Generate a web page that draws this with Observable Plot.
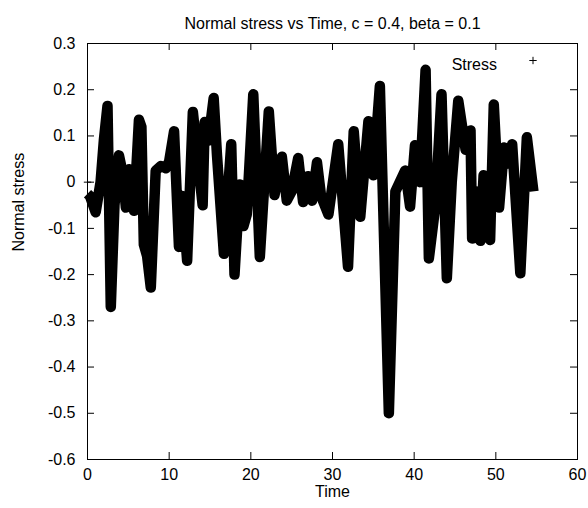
<!DOCTYPE html>
<html>
<head>
<meta charset="utf-8">
<script src="https://cdn.jsdelivr.net/npm/d3@7"></script>
<script src="https://cdn.jsdelivr.net/npm/@observablehq/plot@0.6"></script>
<style>
  html, body { margin: 0; padding: 0; background: white; }
</style>
</head>
<body>
<div id="chart"></div>
<script>
const chartTitle = "Normal stress vs Time, c = 0.4, beta = 0.1";
const xLabel = "Time";
const yLabel = "Normal stress";
const seriesName = "Stress";

const xTicks = [0, 10, 20, 30, 40, 50, 60];
const yTicks = [-0.6, -0.5, -0.4, -0.3, -0.2, -0.1, 0, 0.1, 0.2, 0.3];
const xDomain = [0, 60];
const yDomain = [-0.6, 0.3];

const firstTime = 0;
const firstStress = 0;

const time = [0, 0.3, 1.0, 1.6, 2.0, 2.45, 2.85, 3.3, 3.85, 4.3,
  4.7, 5.1, 5.7, 6.3, 6.6, 6.9, 7.3, 7.75, 8.35, 9.0,
  9.6, 10.0, 10.6, 11.2, 11.6, 12.2, 12.9, 13.5, 14.1, 14.35,
  14.8, 15.45, 15.85, 16.7, 17.2, 17.6, 18.0, 18.65, 19.1, 19.5,
  20.3, 21.1, 22.2, 22.9, 23.8, 24.4, 25.0, 25.8, 26.4, 27.0,
  27.5, 28.1, 28.6, 29.5, 30.7, 31.9, 32.6, 33.4, 34.4, 35.0,
  35.8, 36.9, 37.7, 38.9, 39.5, 40.1, 40.7, 41.4, 41.8, 42.6,
  43.35, 44.0, 44.6, 45.4, 46.3, 46.9, 47.1, 47.6, 48.1, 48.5,
  49.3, 49.75, 50.4, 51.0, 51.4, 52.0, 53.0, 53.8, 54.6];

const stress = [-0.025, -0.03, -0.065, 0.0, 0.09, 0.165, -0.27, -0.05, 0.058, 0.02,
  -0.055, 0.028, -0.062, 0.135, 0.12, -0.135, -0.16, -0.228, 0.025, 0.035,
  0.03, 0.045, 0.11, -0.14, -0.03, -0.17, 0.152, 0.05, -0.05, 0.13,
  0.09, 0.182, 0.06, -0.155, -0.02, 0.082, -0.2, -0.005, -0.095, -0.07,
  0.19, -0.162, 0.153, -0.028, 0.055, -0.04, -0.02, 0.052, -0.043, 0.013,
  -0.04, 0.043, -0.03, -0.07, 0.082, -0.183, 0.11, -0.075, 0.132, 0.015,
  0.208, -0.5, -0.02, 0.025, -0.053, 0.08, 0.0, 0.243, -0.165, -0.05,
  0.19, -0.208, 0.0, 0.176, 0.07, 0.112, -0.122, -0.02, -0.127, 0.015,
  -0.125, 0.168, -0.055, 0.075, 0.04, 0.082, -0.197, 0.097, -0.02];

const data = time.map((t, i) => ({t, s: stress[i]}));
const fmt = v => String(+(+v).toFixed(1));
const FS = 16;

const W = 588, H = 508, ML = 87, MR = 11, MT = 43, MB = 49;
const TICK = 7;
const innerW = W - ML - MR, innerH = H - MT - MB;
// tick length converted from pixels to data units
const tx = TICK * (xDomain[1] - xDomain[0]) / innerW;
const ty = TICK * (yDomain[1] - yDomain[0]) / innerH;

const chart = Plot.plot({
  width: W,
  height: H,
  marginLeft: ML,
  marginRight: MR,
  marginTop: MT,
  marginBottom: MB,
  style: {fontFamily: "'Liberation Sans', Arial, sans-serif", fontSize: FS + "px", background: "white", color: "black", overflow: "visible"},
  x: {domain: xDomain},
  y: {domain: yDomain},
  marks: [
    Plot.line(data, {x: "t", y: "s", stroke: "black", strokeWidth: 10.5, strokeLinejoin: "round", strokeLinecap: "butt"}),
    Plot.dot([{t: firstTime, s: firstStress}], {x: "t", y: "s", symbol: "plus", r: 2.5, stroke: "black", strokeWidth: 1}),
    Plot.frame({stroke: "black", strokeWidth: 1}),
    // inward tick marks on all four sides
    Plot.ruleX(xTicks, {x: d => d, y1: yDomain[0], y2: yDomain[0] + ty, stroke: "black", strokeWidth: 1}),
    Plot.ruleX(xTicks, {x: d => d, y1: yDomain[1] - ty, y2: yDomain[1], stroke: "black", strokeWidth: 1}),
    Plot.ruleY(yTicks, {y: d => d, x1: xDomain[0], x2: xDomain[0] + tx, stroke: "black", strokeWidth: 1}),
    Plot.ruleY(yTicks, {y: d => d, x1: xDomain[1] - tx, x2: xDomain[1], stroke: "black", strokeWidth: 1}),
    // tick labels
    Plot.axisX({anchor: "bottom", ticks: xTicks, tickSize: 0, tickPadding: 9, tickFormat: fmt, label: null, fill: "black", fontSize: FS}),
    Plot.axisY({anchor: "left", ticks: yTicks, tickSize: 0, tickPadding: 12, tickFormat: fmt, label: null, fill: "black", fontSize: FS}),
    Plot.text([chartTitle], {frameAnchor: "top", dy: -26, text: d => d, fill: "black", fontSize: FS}),
    Plot.text([xLabel], {frameAnchor: "bottom", dy: 37, text: d => d, fill: "black", fontSize: FS}),
    Plot.text([yLabel], {frameAnchor: "left", dx: -69, rotate: -90, text: d => d, fill: "black", fontSize: FS}),
    Plot.text([seriesName], {frameAnchor: "top-right", dx: -80.5, dy: 15, textAnchor: "end", text: d => d, fill: "black", fontSize: FS}),
    Plot.dot([seriesName], {frameAnchor: "top-right", dx: -44.5, dy: 17, symbol: "plus", r: 2.5, stroke: "black", strokeWidth: 1})
  ]
});
document.getElementById("chart").appendChild(chart);
</script>
</body>
</html>
